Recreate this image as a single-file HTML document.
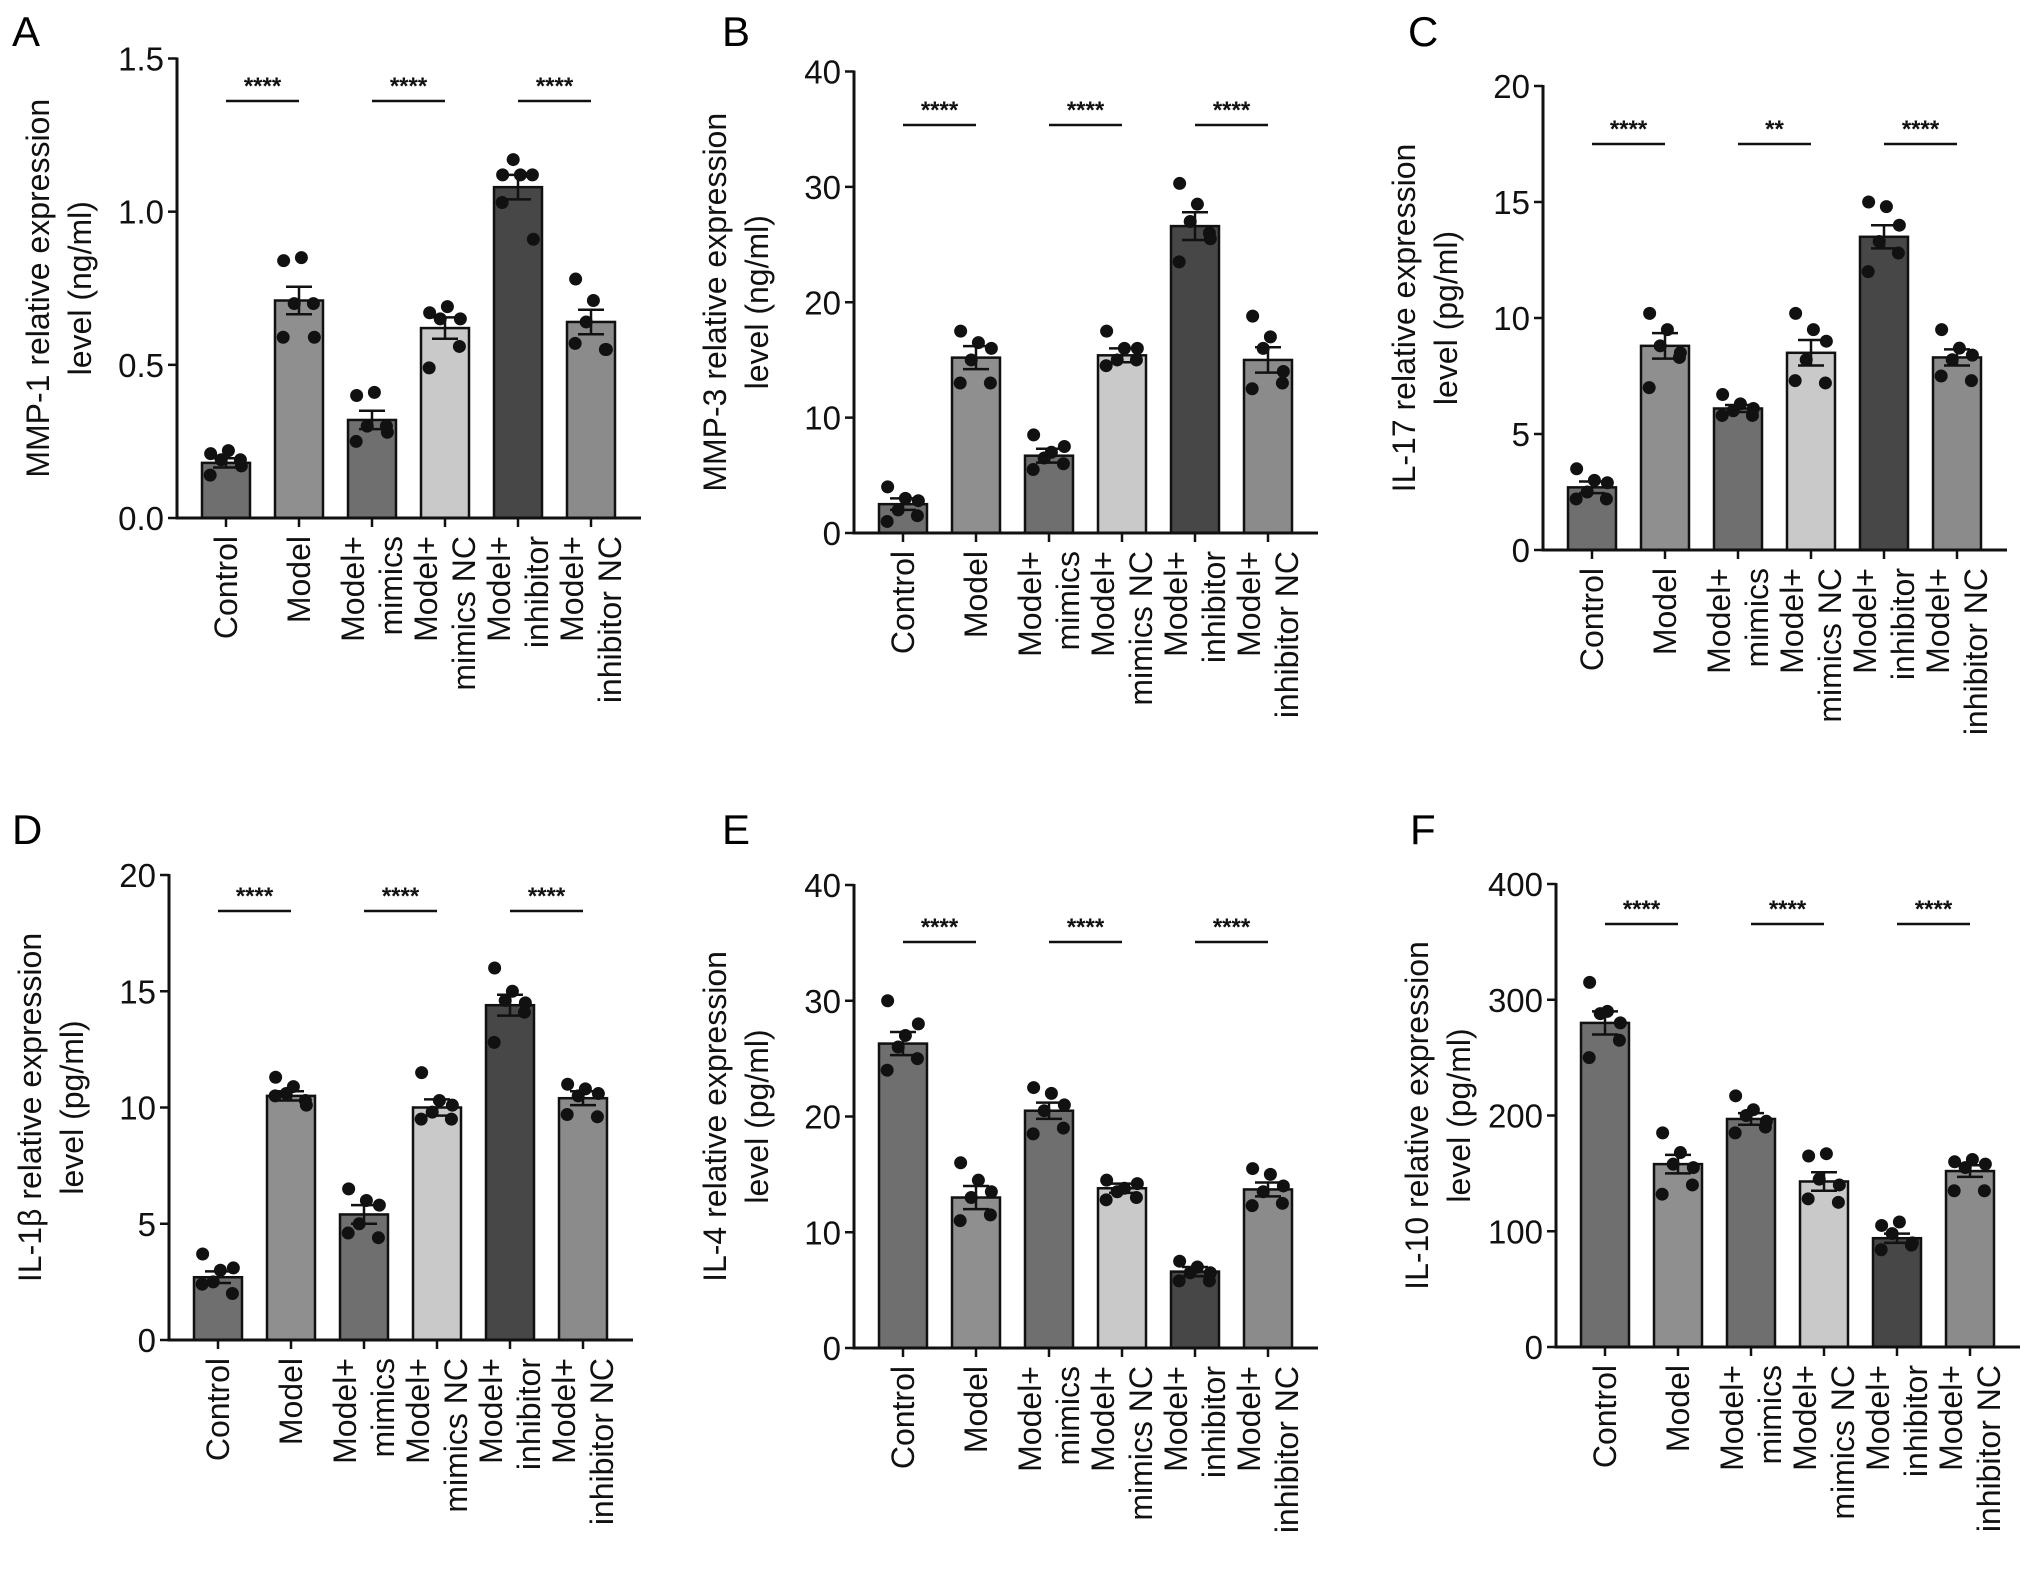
<!DOCTYPE html>
<html><head><meta charset="utf-8"><style>
html,body{margin:0;padding:0;background:#fff;}
svg{display:block;font-family:"Liberation Sans",Arial,sans-serif;}
</style></head><body>
<svg id="fig" width="2032" height="1588" viewBox="0 0 2032 1588" xmlns="http://www.w3.org/2000/svg"></svg>
<script>
const categories = [["Control"],["Model"],["Model+","mimics"],["Model+","mimics NC"],["Model+","inhibitor"],["Model+","inhibitor NC"]];
const barColors = ["#6f6f6f","#8f8f8f","#6f6f6f","#c9c9c9","#474747","#8b8b8b"];

const meansA = [0.18,0.71,0.32,0.62,1.08,0.64];
const semA = [0.015,0.045,0.03,0.035,0.04,0.04];
const ptsA = [[0.21,0.22,0.19,0.19,0.14,0.17],[0.84,0.85,0.70,0.70,0.59,0.59],[0.40,0.41,0.30,0.30,0.25,0.28],[0.67,0.69,0.65,0.56,0.49,0.65],[1.12,1.12,1.17,1.12,1.03,0.91],[0.78,0.71,0.64,0.55,0.57,0.55]];
const ticksA = ["0.0","0.5","1.0","1.5"];

const meansB = [2.5,15.2,6.7,15.4,26.6,15.0];
const semB = [0.5,1.0,0.6,0.6,1.2,1.1];
const ptsB = [[4,3,2,1.5,1,2.8],[17.5,16.5,15,13,13,16],[8.5,7,6.5,6,5.5,7.5],[17.5,16,15,15,14.5,16],[30.3,28.5,27,26,23.5,25.5],[18.8,17,16,13,12.5,14]];
const ticksB = ["0","10","20","30","40"];

const meansC = [2.7,8.8,6.1,8.5,13.5,8.3];
const semC = [0.25,0.55,0.15,0.55,0.5,0.35];
const ptsC = [[3.5,3,2.5,2.2,2.2,2.9],[10.2,9.5,8.8,8.3,7,8.5],[6.7,6.3,6,5.8,5.8,6.1],[10.2,9.5,8.2,7.2,7.3,9],[15,14.8,13.3,12.8,12,14],[9.5,8.7,8.2,7.3,7.5,8.4]];
const ticksC = ["0","5","10","15","20"];

const meansD = [2.7,10.5,5.4,10.0,14.4,10.4];
const semD = [0.25,0.2,0.4,0.35,0.45,0.3];
const ptsD = [[3.7,3,2.5,2,2.4,3.1],[11.3,10.9,10.6,10.3,10.5,10.1],[6.5,6,5,4.4,4.6,5.8],[11.5,10.3,9.8,9.5,9.5,10.1],[16,15,14.6,14.1,12.8,14.5],[11,10.8,10.5,9.6,9.7,10.6]];
const ticksD = ["0","5","10","15","20"];

const meansE = [26.3,13.0,20.5,13.8,6.6,13.7];
const semE = [1.0,1.0,0.7,0.4,0.4,0.6];
const ptsE = [[30,27,26,25,24,28],[16,14.5,13,11.5,11,13.5],[22.5,22,20.5,19,18.5,21],[14.5,13.8,13.5,13,12.8,14.2],[7.5,7,6.5,5.8,5.8,6.5],[15.5,15,13.5,12.5,12.3,14]];
const ticksE = ["0","10","20","30","40"];

const meansF = [280,158,197,143,94,152];
const semF = [10,8,5,8,4,5];
const ptsF = [[315,290,288,265,250,280],[185,168,158,140,132,155],[217,205,200,190,185,195],[165,167,145,125,128,140],[105,108,98,88,84,90],[160,162,155,135,135,158]];
const ticksF = ["0","100","200","300","400"];

const sigA = ["****","****","****"], sigB = ["****","****","****"], sigC = ["****","**","****"];
const sigD = ["****","****","****"], sigE = ["****","****","****"], sigF = ["****","****","****"];

const NS = "http://www.w3.org/2000/svg";
const svg = document.getElementById("fig");
function mk(tag, attrs, parent, text){
  const e = document.createElementNS(NS, tag);
  for (const k in attrs) e.setAttribute(k, attrs[k]);
  if (text !== undefined) e.textContent = text;
  (parent||svg).appendChild(e);
  return e;
}
const jitter = [-0.32,0.05,-0.1,0.3,-0.33,0.32];

function panel(p){
  const g = mk("g", {});
  
  
  const ymax = parseFloat(p.ticks[p.ticks.length-1]);
  const ys = v => p.y0 - (v/ymax)*(p.y0 - p.ytop);
  const step = 73;
  const xs = i => p.ax + 49 + i*step;
  const bw = 48;
  const L = mk("text", {x:p.lx, y:p.ly, "font-size":42, fill:"#000"}, g, p.letter);
  
  
  p.means.forEach((m,i)=>{
    const r = mk("rect", {x:xs(i)-bw/2, y:ys(m), width:bw, height:p.y0-ys(m), fill:barColors[i], stroke:"#111", "stroke-width":2.5}, g);
    
    
  });
  p.pts.forEach((arr,i)=>{
    arr.forEach((v,j)=>{
      const c = mk("circle", {cx:xs(i)+jitter[j]*bw, cy:ys(v), r:6.5, fill:"#111"}, g);
      
      
    });
  });
  p.means.forEach((m,i)=>{
    const s = p.sem[i], x = xs(i);
    const eb = mk("path", {d:`M${x},${ys(m+s)}V${ys(m-s)}M${x-13},${ys(m+s)}H${x+13}M${x-13},${ys(m-s)}H${x+13}`, stroke:"#111","stroke-width":2.5, fill:"none"}, g);
    
    
  });
  const xend = xs(5) + 50;
  const ax = mk("path", {d:`M${p.ax},${p.ytop-1}V${p.y0}H${xend}`, stroke:"#111","stroke-width":3, fill:"none"}, g);
  
  
  p.ticks.forEach(t=>{
    const y = ys(parseFloat(t));
    mk("line", {x1:p.ax-9, x2:p.ax, y1:y, y2:y, stroke:"#111","stroke-width":2.5}, g);
    const tl = mk("text", {x:p.ax-13, y:y+12, "font-size":33, "text-anchor":"end", fill:"#111"}, g, t);
    
    
  });
  categories.forEach((c,i)=>{
    const x = xs(i);
    mk("line", {x1:x, x2:x, y1:p.y0, y2:p.y0+9, stroke:"#111","stroke-width":2.5}, g);
    const n = c.length;
    c.forEach((line,k)=>{
      const off = n===1 ? 0 : (k===0 ? -19 : 19);
      const tx = x + off + 11, ty = p.y0 + 18;
      const t = mk("text", {x:0, y:0, "font-size":32, "text-anchor":"end", fill:"#111", transform:`translate(${tx},${ty}) rotate(-90)`}, g, line);
      
      
    });
  });
  const cy = (p.y0 + p.ytop)/2;
  p.title.forEach((line,k)=>{
    const tx = p.ax - 128 + k*42;
    const t = mk("text", {x:0, y:0, "font-size":32, "text-anchor":"middle", fill:"#111", transform:`translate(${tx},${cy}) rotate(-90)`}, g, line);
    
    
  });
  p.sig.forEach((s,k)=>{
    const x1 = xs(2*k), x2 = xs(2*k+1);
    const sl = mk("line", {x1:x1, x2:x2, y1:p.sy, y2:p.sy, stroke:"#111","stroke-width":2.5}, g);
    
    
    const st = mk("text", {x:(x1+x2)/2, y:p.sy-7, "font-size":24, "font-weight":"bold", "text-anchor":"middle", fill:"#111"}, g, s);
    
    
  });
}

panel({letter:"A", lx:12, ly:46, ax:177, y0:518, ytop:58.5, sy:101, ticks:ticksA, means:meansA, sem:semA, pts:ptsA, sig:sigA, title:["MMP-1 relative expression","level (ng/ml)"]});
panel({letter:"B", lx:722, ly:46, ax:854, y0:533, ytop:71.5, sy:125, ticks:ticksB, means:meansB, sem:semB, pts:ptsB, sig:sigB, title:["MMP-3 relative expression","level (ng/ml)"]});
panel({letter:"C", lx:1408, ly:46, ax:1543, y0:550, ytop:86, sy:144, ticks:ticksC, means:meansC, sem:semC, pts:ptsC, sig:sigC, title:["IL-17 relative expression","level (pg/ml)"]});
panel({letter:"D", lx:12, ly:844, ax:169, y0:1340, ytop:875, sy:911, ticks:ticksD, means:meansD, sem:semD, pts:ptsD, sig:sigD, title:["IL-1β relative expression","level (pg/ml)"]});
panel({letter:"E", lx:722, ly:844, ax:854, y0:1348, ytop:885, sy:942, ticks:ticksE, means:meansE, sem:semE, pts:ptsE, sig:sigE, title:["IL-4 relative expression","level (pg/ml)"]});
panel({letter:"F", lx:1410, ly:844, ax:1556, y0:1347, ytop:884, sy:924, ticks:ticksF, means:meansF, sem:semF, pts:ptsF, sig:sigF, title:["IL-10 relative expression","level (pg/ml)"]});
</script>
</body></html>
